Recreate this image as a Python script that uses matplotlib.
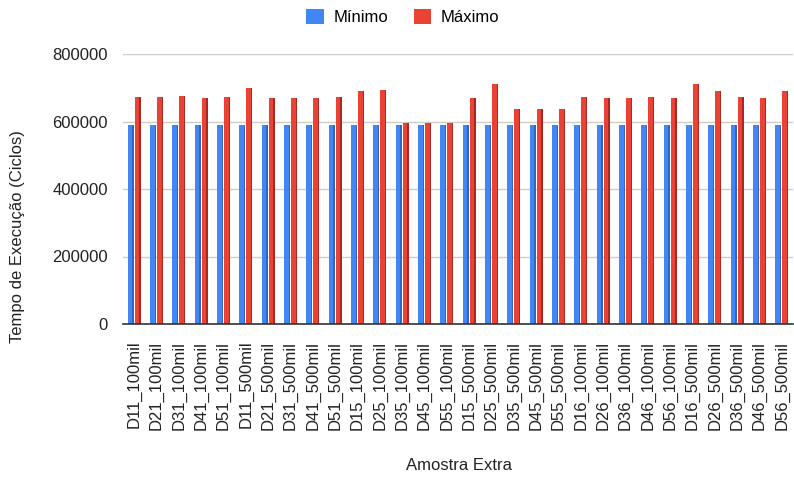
import matplotlib
matplotlib.use("Agg")
import matplotlib.pyplot as plt
from matplotlib.patches import Patch
import numpy as np

plt.rcParams['font.family'] = ['Liberation Sans', 'DejaVu Sans']

categories = [
    "D11_100mil", "D21_100mil", "D31_100mil", "D41_100mil", "D51_100mil",
    "D11_500mil", "D21_500mil", "D31_500mil", "D41_500mil", "D51_500mil",
    "D15_100mil", "D25_100mil", "D35_100mil", "D45_100mil", "D55_100mil",
    "D15_500mil", "D25_500mil", "D35_500mil", "D45_500mil", "D55_500mil",
    "D16_100mil", "D26_100mil", "D36_100mil", "D46_100mil", "D56_100mil",
    "D16_500mil", "D26_500mil", "D36_500mil", "D46_500mil", "D56_500mil",
]
minimo = [590000] * 30
maximo = [
    674000, 674000, 675000, 670000, 674000,
    699000, 670000, 670000, 670000, 674000,
    690000, 694000, 597000, 597000, 597000,
    670000, 712000, 637000, 637000, 637000,
    674000, 670000, 670000, 674000, 670000,
    712000, 690000, 674000, 670000, 690000,
]
y_ticks = [0, 200000, 400000, 600000, 800000]

blue = "#4285F4"
red = "#EA4335"

W, H = 794, 479
fig = plt.figure(figsize=(W / 100, H / 100), dpi=100)
ax = fig.add_axes([123 / W, (H - 324) / H, 670 / W, 270 / H])

x = np.arange(len(categories))
bw = 0.26
off = 0.155
ax.bar(x - off, minimo, width=bw, color=blue, edgecolor="none", zorder=3)
ax.bar(x + off, maximo, width=bw, color=red, edgecolor="none", zorder=3)
# darker right edge for a slight bevel look
ax.bar(x - off + bw / 2 - 0.03, minimo, width=0.06, color="#2f66c4", edgecolor="none", zorder=4)
ax.bar(x + off + bw / 2 - 0.03, maximo, width=0.06, color="#a8291f", edgecolor="none", zorder=4)

ax.set_xlim(-0.5, len(categories) - 0.5)
ax.set_ylim(0, 800000)
ax.set_yticks(y_ticks)
ax.set_yticklabels([str(v) for v in y_ticks], fontsize=12, color="#222222")
ax.set_xticks(x)
ax.set_xticklabels(categories, rotation=90, fontsize=12, color="#222222")
ax.tick_params(axis="both", length=0)
ax.tick_params(axis="y", pad=11)
ax.tick_params(axis="x", pad=12)
ax.grid(axis="y", color="#cccccc", linewidth=1, zorder=0)
for s in ["top", "right", "left"]:
    ax.spines[s].set_visible(False)
ax.spines["bottom"].set_color("#333333")
ax.spines["bottom"].set_linewidth(1.2)
ax.spines["bottom"].set_zorder(5)

fig.text(18 / W, 1 - 237 / H, "Tempo de Execução (Ciclos)", rotation=90,
         ha="center", va="center", fontsize=12, color="#222222")
fig.text(459 / W, 1 - 466 / H, "Amostra Extra", ha="center", va="center",
         fontsize=12, color="#222222")

handles = [Patch(facecolor=blue, edgecolor="none", label="Mínimo"),
           Patch(facecolor=red, edgecolor="none", label="Máximo")]
fig.legend(handles=handles, loc="center", bbox_to_anchor=(403 / W, 1 - 17 / H),
           ncol=2, frameon=False, fontsize=12, handlelength=1.05, handleheight=1.05,
           handletextpad=0.6, columnspacing=1.5)

fig.savefig("out.png", dpi=100)
